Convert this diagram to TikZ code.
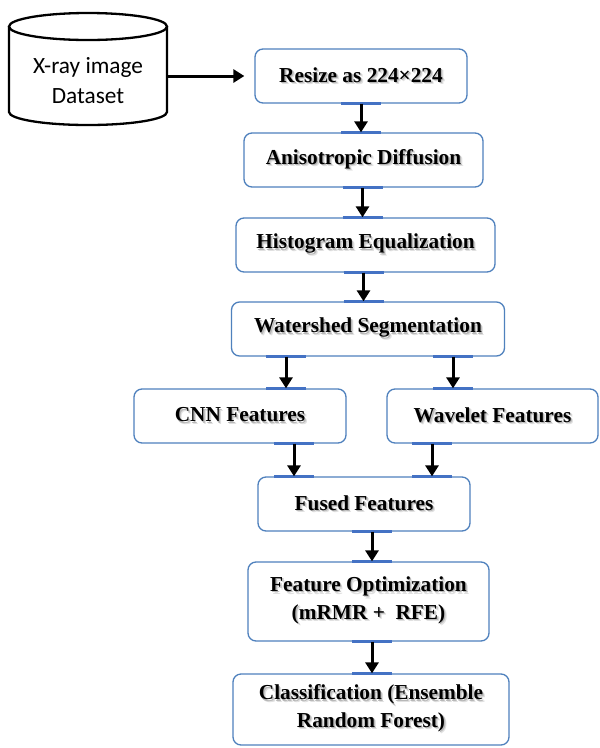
\documentclass[tikz,border=0pt]{standalone}
\usepackage{fontspec}
\setmainfont{Liberation Serif}
\newfontfamily\calib{Carlito}
\usetikzlibrary{arrows.meta,calc}
\definecolor{boxblue}{RGB}{79,129,189}
\definecolor{segblue}{RGB}{68,114,196}
\newcommand{\sh}[1]{\rlap{\kern2.4pt\raisebox{-2.4pt}{\textcolor{black!12}{#1}}}\rlap{\kern1.3pt\raisebox{-1.3pt}{\textcolor{black!28}{#1}}}#1}
\tikzset{
  stepbox/.style={draw=boxblue, line width=1.3pt, rounded corners=8pt, fill=white,
    inner sep=0pt, align=center, font=\fontsize{21.3}{27.5}\selectfont\bfseries},
  seg/.style={draw=segblue, line width=2.6pt},
  arr/.style={draw=black, line width=3pt, -{Triangle[length=11pt,width=13pt]}},
  cyl/.style={draw=black, line width=2.3pt}
}
\newcommand{\conn}[3]{%
  \coordinate (cs) at ([xshift=#3]#1.south);
  \coordinate (ct) at (cs |- #2.north);
  \draw[seg] ([xshift=-20pt]cs) -- ([xshift=20pt]cs);
  \draw[seg] ([xshift=-20pt]ct) -- ([xshift=20pt]ct);
  \draw[arr] (cs) -- (ct);
}
\begin{document}
\begin{tikzpicture}[x=1pt,y=-1pt]
\useasboundingbox[fill=white] (0,0) rectangle (600,748);
% cylinder
\draw[cyl] (9,26.5) -- (9,112) arc[start angle=180, end angle=360, x radius=79pt, y radius=13pt] -- (167,26.5);
\draw[cyl] (88,26.5) ellipse [x radius=79pt, y radius=13.5pt];
\node[minimum width=158pt, inner sep=0pt, align=center, font=\calib\fontsize{23.3}{30}\selectfont] (db) at (88,81) {X-ray image\\Dataset};
% boxes
\node[stepbox, minimum width=212pt, minimum height=54pt] (b1) at (361,76) {\sh{Resize as 224×224}};
\node[stepbox, minimum width=239pt, minimum height=54pt] (b2) at (363.5,160) {\sh{Anisotropic Diffusion}};
\node[stepbox, minimum width=259pt, minimum height=54pt] (b3) at (365.5,245) {\sh{Histogram Equalization}};
\node[stepbox, minimum width=273pt, minimum height=54pt] (b4) at (368,329) {\sh{Watershed Segmentation}};
\node[stepbox, minimum width=212pt, minimum height=54pt] (cnn) at (240,416) {\sh{CNN Features}};
\node[stepbox, minimum width=211pt, minimum height=54pt] (wav) at (492.5,416) {\sh{Wavelet Features}};
\node[stepbox, minimum width=212pt, minimum height=54pt] (fus) at (364,504) {\sh{Fused Features}};
\node[stepbox, minimum width=241pt, minimum height=79pt] (opt) at (368.5,601.5) {\sh{Feature Optimization}\\\sh{(mRMR +\ \ RFE)}};
\node[stepbox, minimum width=276pt, minimum height=71pt] (cls) at (371,709.5) {\sh{Classification (Ensemble}\\\sh{Random Forest)}};
% connectors
\draw[arr] (db.east |- b1.west) -- ([xshift=-10pt]b1.west);
\conn{b1}{b2}{0pt}
\conn{b2}{b3}{-1pt}
\conn{b3}{b4}{-2pt}
\conn{b4}{cnn}{-82pt}
\conn{b4}{wav}{85pt}
\conn{cnn}{fus}{54pt}
\conn{wav}{fus}{-60.5pt}
\conn{fus}{opt}{8pt}
\conn{opt}{cls}{3.5pt}
\end{tikzpicture}
\end{document}
